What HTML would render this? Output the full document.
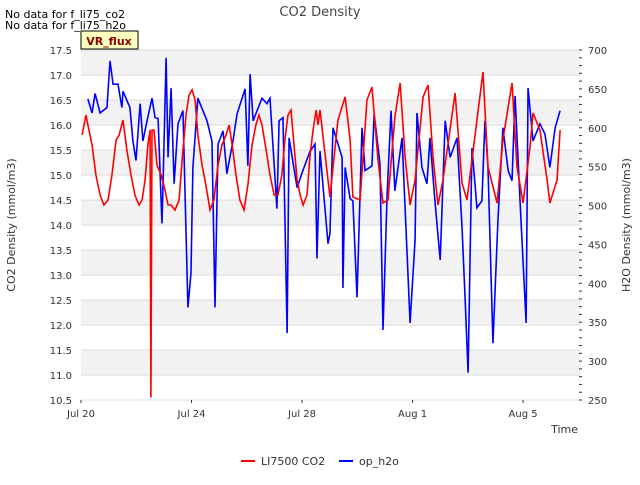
<!DOCTYPE html>
<html><head><meta charset="utf-8"><style>
body{margin:0;background:#fff;font-family:"Liberation Sans",sans-serif}
svg text{font-family:"DejaVu Sans","Liberation Sans",sans-serif}
</style></head><body>
<svg id="c" width="640" height="480" xmlns="http://www.w3.org/2000/svg">
<text x="320" y="16" text-anchor="middle" font-size="13" fill="#444">CO2 Density</text>
<text x="5" y="18" font-size="11" fill="#000">No data for f_li75_co2</text>
<text x="5" y="29" font-size="11" fill="#000">No data for f_li75_h2o</text>
<g id="grid"></g>
<g id="axes"></g>
<g id="series"></g>
<rect x="81" y="31" width="57" height="18" fill="#ffffc0" stroke="#000" stroke-width="1"/>
<text x="109" y="45" text-anchor="middle" font-size="11" font-weight="bold" fill="#8b0000">VR_flux</text>
<text x="15" y="225" transform="rotate(-90 15 225)" text-anchor="middle" font-size="11" fill="#333">CO2 Density (mmol/m3)</text>
<text x="630" y="225" transform="rotate(-90 630 225)" text-anchor="middle" font-size="11" fill="#333">H2O Density (mmol/m3)</text>
<text x="578" y="433" text-anchor="end" font-size="11" fill="#333">Time</text>
<g>
<line x1="241" y1="461" x2="255" y2="461" stroke="#f00" stroke-width="2"/>
<text x="261" y="465" font-size="11" fill="#333">LI7500 CO2</text>
<line x1="339" y1="461" x2="353" y2="461" stroke="#00f" stroke-width="2"/>
<text x="359" y="465" font-size="11" fill="#333">op_h2o</text>
</g>
</svg>
<script>
const xTickDays=[0,4,8,12,16];
const xTickLabels=["Jul 20","Jul 24","Jul 28","Aug 1","Aug 5"];
const leftTicks=[10.5,11,11.5,12,12.5,13,13.5,14,14.5,15,15.5,16,16.5,17,17.5];
const rightTicks=[250,300,350,400,450,500,550,600,650,700];
const co2Days=[0.04,0.18,0.25,0.40,0.54,0.69,0.83,0.98,1.12,1.27,1.38,1.52,1.66,1.81,1.95,2.10,2.21,2.32,2.42,2.50,2.53,2.57,2.64,2.75,2.90,3.04,3.15,3.26,3.40,3.55,3.66,3.80,3.91,4.02,4.13,4.23,4.38,4.52,4.67,4.81,4.96,5.10,5.25,5.36,5.47,5.61,5.75,5.90,6.04,6.19,6.33,6.44,6.55,6.70,6.84,6.99,7.13,7.27,7.38,7.49,7.60,7.71,7.82,7.93,8.04,8.18,8.29,8.40,8.51,8.58,8.65,9.01,9.30,9.56,9.74,9.84,10.10,10.35,10.53,10.75,10.93,11.11,11.36,11.55,11.73,11.91,12.09,12.38,12.56,12.74,12.92,13.10,13.54,13.79,13.97,14.33,14.55,14.73,15.06,15.27,15.60,15.78,16.00,16.25,16.36,16.61,16.87,16.97,17.23,17.34];
const co2Values=[15.8,16.2,16.0,15.6,15.0,14.6,14.4,14.5,15.0,15.7,15.8,16.1,15.5,15.0,14.6,14.4,14.5,14.9,15.6,15.9,10.55,15.9,15.9,15.2,15.0,14.7,14.4,14.4,14.3,14.5,15.3,16.2,16.6,16.7,16.5,15.8,15.2,14.8,14.3,14.5,15.2,15.6,15.8,16.0,15.6,15.0,14.5,14.3,14.8,15.6,16.0,16.2,16.0,15.5,15.0,14.6,14.6,15.0,15.7,16.2,16.3,15.6,14.9,14.6,14.4,14.6,15.4,15.9,16.3,16.0,16.3,14.56,16.1,16.56,15.7,14.56,14.5,16.5,16.76,15.3,14.44,14.5,16.16,16.84,15.36,14.4,14.9,16.56,16.8,15.36,14.4,14.9,16.64,14.84,14.5,16.1,17.06,15.16,14.44,15.7,16.84,15.16,14.44,15.56,16.24,15.9,14.9,14.44,14.9,15.9];
const h2oDays=[0.25,0.40,0.51,0.69,0.94,1.05,1.16,1.34,1.48,1.52,1.77,1.88,1.99,2.14,2.24,2.39,2.57,2.68,2.79,2.93,2.97,3.08,3.15,3.26,3.37,3.51,3.69,3.87,3.98,4.05,4.23,4.56,4.74,4.85,4.96,5.14,5.28,5.50,5.65,5.94,6.04,6.12,6.23,6.55,6.73,6.84,7.09,7.17,7.31,7.46,7.53,7.82,8.00,8.29,8.47,8.54,8.65,8.94,9.01,9.12,9.45,9.48,9.56,9.74,9.84,9.99,10.17,10.28,10.53,10.61,10.82,10.93,11.08,11.22,11.36,11.62,11.91,12.09,12.16,12.34,12.52,12.63,12.81,13.00,13.18,13.36,13.61,13.79,13.90,14.01,14.15,14.33,14.51,14.62,14.73,14.91,15.09,15.27,15.46,15.60,15.71,15.89,16.11,16.18,16.36,16.61,16.79,16.97,17.16,17.34];
const h2oValues=[637,619,644,619,626,686,656,656,626,647,626,583,558,631,583,609,638,613,612,477,528,690,562,651,528,605,622,369,413,549,638,609,583,369,579,596,541,583,618,650,551,669,609,638,631,638,496,609,613,336,587,523,542,570,579,432,570,451,464,600,562,394,549,509,506,382,600,545,551,618,554,340,515,622,519,587,349,455,619,549,528,587,506,430,609,562,587,472,382,285,574,497,506,609,549,323,481,600,545,532,641,506,349,651,583,605,592,549,600,622];
const X0=81,DX=27.63,YT=50,YB=400,XR=580;
const xs=d=>X0+d*DX;
const yl=v=>YT+(17.5-v)*(YB-YT)/7;
const yr=h=>YB-(h-250)*(YB-YT)/450;
const NS="http://www.w3.org/2000/svg";
function mk(t,a,p){const e=document.createElementNS(NS,t);for(const k in a)e.setAttribute(k,a[k]);p.appendChild(e);return e;}
const grid=document.getElementById('grid'),axes=document.getElementById('axes'),ser=document.getElementById('series');
for(let i=0;i<leftTicks.length-1;i++){
  const v=leftTicks[i];
  if(i%2===1){const r=mk('rect',{x:X0,y:yl(v+0.5),width:XR-X0,height:yl(v)-yl(v+0.5),fill:'#f2f2f2'},grid);
  
  }
}
leftTicks.forEach(v=>{
  const l=mk('line',{x1:X0,x2:XR,y1:yl(v),y2:yl(v),stroke:'#dcdcdc','stroke-width':1},grid);
  
  
  const t=mk('text',{x:X0-9,y:yl(v)+4,'text-anchor':'end','font-size':10,fill:'#333'},axes);t.textContent=v.toFixed(1);
  
  
});
rightTicks.forEach(h=>{
  const t=mk('text',{x:XR+8,y:yr(h)+4,'font-size':10,fill:'#333'},axes);t.textContent=h;
  
  
});
for(let h=250;h<=700;h+=10){mk('line',{x1:XR-1,x2:XR+2,y1:yr(h),y2:yr(h),stroke:'#333'},axes);}
xTickDays.forEach((d,i)=>{
  mk('line',{x1:xs(d),x2:xs(d),y1:YB,y2:YB+3,stroke:'#333'},axes);
  const t=mk('text',{x:xs(d),y:YB+17,'text-anchor':'middle','font-size':10,fill:'#333'},axes);t.textContent=xTickLabels[i];
  
  
});
const p1=mk('polyline',{points:co2Days.map((d,i)=>xs(d)+','+yl(co2Values[i])).join(' '),fill:'none',stroke:'#f00','stroke-width':1.6},ser);
const p2=mk('polyline',{points:h2oDays.map((d,i)=>xs(d)+','+yr(h2oValues[i])).join(' '),fill:'none',stroke:'#00f','stroke-width':1.6},ser);




ser.appendChild(p1);
</script>
</body></html>
